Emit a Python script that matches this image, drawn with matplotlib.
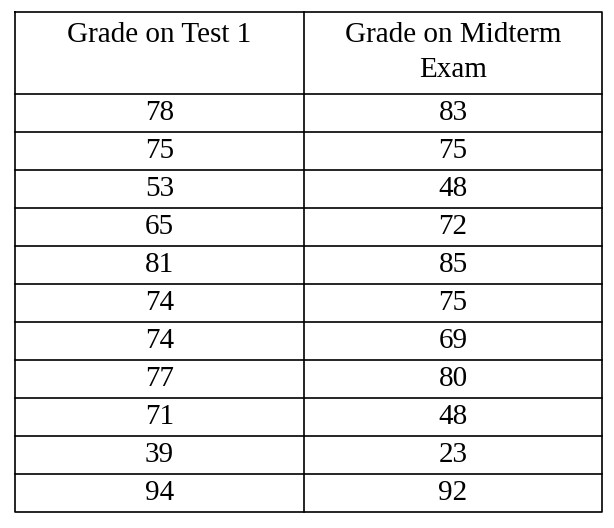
import matplotlib.pyplot as plt

headers = ["Grade on Test 1", "Grade on Midterm\nExam"]
test1 = [78, 75, 53, 65, 81, 74, 74, 77, 71, 39, 94]
midterm = [83, 75, 48, 72, 85, 75, 69, 80, 48, 23, 92]

W, H = 614, 528
fig = plt.figure(figsize=(W / 100, H / 100), dpi=100)
ax = fig.add_axes([0, 0, 1, 1])
ax.set_xlim(0, W)
ax.set_ylim(H, 0)
ax.axis('off')

left, mid, right = 15, 304, 602
top, head_bot, row_h = 12, 94, 38
nrows = len(test1)
bottom = head_bot + nrows * row_h
font = dict(family='Liberation Serif', fontsize=21, color='black')

# frame and grid
ax.plot([left, right, right, left, left], [top, top, bottom, bottom, top], color='black', lw=1.2)
ax.plot([mid, mid], [top, bottom], color='black', lw=1.2)
for i in range(nrows):
    y = head_bot + i * row_h
    ax.plot([left, right], [y, y], color='black', lw=1.2)

# header
ax.text((left + mid) / 2, top + 10, headers[0], ha='center', va='top', linespacing=1.45, **font)
ax.text((mid + right) / 2, top + 10, headers[1], ha='center', va='top', linespacing=1.45, **font)

# rows
for i, (a, b) in enumerate(zip(test1, midterm)):
    yc = head_bot + i * row_h + row_h / 2
    ax.text((left + mid) / 2, yc, str(a), ha='center', va='center', **font)
    ax.text((mid + right) / 2, yc, str(b), ha='center', va='center', **font)

fig.savefig('out.png', dpi=100)
